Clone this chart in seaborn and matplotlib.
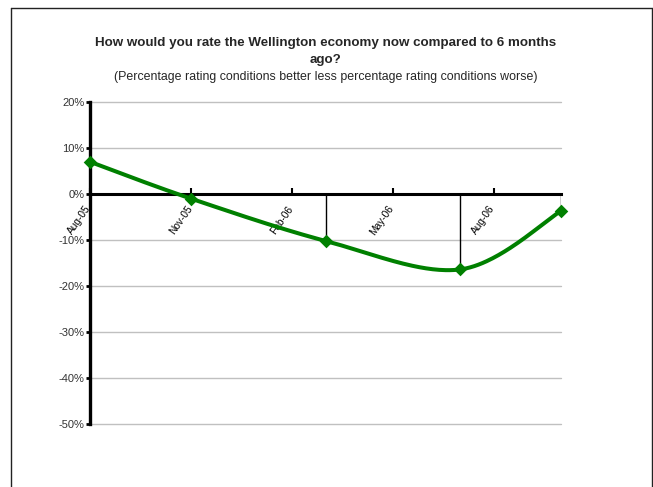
import numpy as np
import pandas as pd
import matplotlib
matplotlib.use("Agg")
import matplotlib.pyplot as plt
from matplotlib.lines import Line2D
from matplotlib.transforms import ScaledTranslation
import seaborn as sns

# ---- data ----
dates = ["Aug-05", "Nov-05", "Mar-06", "Jul-06", "Oct-06"]
values = [7.0, -1.0, -10.2, -16.4, -3.7]
tick_labels = ["Aug-05", "Nov-05", "Feb-06", "May-06", "Aug-06"]
y_ticks = [20, 10, 0, -10, -20, -30, -40, -50]

title_lines = ["How would you rate the Wellington economy now compared to 6 months", "ago?"]
subtitle = "(Percentage rating conditions better less percentage rating conditions worse)"

sns.set_theme(style="white")
plt.rcParams["font.family"] = ["Liberation Sans", "DejaVu Sans"]

start = pd.Period("2005-08", freq="M")
def month_index(lbl):
    p = pd.Period(pd.to_datetime(lbl, format="%b-%y"), freq="M")
    return (p - start).n

xs = np.array([month_index(d) for d in dates], dtype=float)
ys = np.array(values, dtype=float)
tick_pos = [month_index(t) for t in tick_labels]

# Excel-like smoothing (Catmull-Rom via cubic Bezier)
def smooth(x, y, n=60):
    P = np.column_stack([x, y])
    Pext = np.vstack([P[0], P, P[-1]])
    out = []
    for i in range(len(P) - 1):
        p0, p1, p2, p3 = Pext[i], Pext[i + 1], Pext[i + 2], Pext[i + 3]
        c1 = p1 + (p2 - p0) / 6.0
        c2 = p2 - (p3 - p1) / 6.0
        t = np.linspace(0, 1, n)[:, None]
        seg = ((1 - t) ** 3) * p1 + 3 * ((1 - t) ** 2) * t * c1 + 3 * (1 - t) * t ** 2 * c2 + t ** 3 * p2
        out.append(seg if i == 0 else seg[1:])
    s = np.vstack(out)
    return s[:, 0], s[:, 1]

sx, sy = smooth(xs, ys)
curve = pd.DataFrame({"x": sx, "y": sy})
pts = pd.DataFrame({"x": xs, "y": ys})

fig = plt.figure(figsize=(6.53, 4.87), dpi=100)
ax = fig.add_axes([90 / 653, 1 - 424 / 487, (561 - 90) / 653, (424 - 102) / 487])

# gridlines
for yt in y_ticks:
    if yt != 0:
        ax.axhline(yt, color="#c0c0c0", lw=1, zorder=0, clip_on=False)

# drop lines
ax.vlines(xs, 0, ys, color="black", lw=1, zorder=1)

sns.lineplot(data=curve, x="x", y="y", ax=ax, color="#008000", lw=2.9, sort=False, zorder=3)
sns.scatterplot(data=pts, x="x", y="y", ax=ax, color="#008000", marker="D", s=48,
                edgecolor="#008000", linewidth=0, zorder=4, clip_on=False)

ax.set_xlim(xs.min(), xs.max())
ax.set_ylim(-50, 20)
ax.set_xlabel("")
ax.set_ylabel("")

ax.spines["top"].set_visible(False)
ax.spines["right"].set_visible(False)
ax.spines["left"].set_linewidth(2.4)
ax.spines["left"].set_color("black")
ax.spines["bottom"].set_position(("data", 0))
ax.spines["bottom"].set_linewidth(2.2)
ax.spines["bottom"].set_color("black")

ax.set_yticks(y_ticks)
ax.set_yticklabels([f"{v}%" for v in y_ticks], fontsize=8, color="#333333")
ax.tick_params(axis="y", direction="out", length=3, width=2, color="black", pad=1, left=True)

ax.set_xticks(tick_pos)
ax.set_xticklabels(tick_labels, fontsize=7.3, rotation=55, ha="right", va="top",
                   rotation_mode="anchor", color="black")
ax.tick_params(axis="x", direction="in", length=4, width=1.5, color="black", pad=7, bottom=True)
shift = ScaledTranslation(-0.05, 0, fig.dpi_scale_trans)
for lab in ax.get_xticklabels():
    lab.set_transform(lab.get_transform() + shift)

fig.text(326 / 653, 1 - 43 / 487, title_lines[0], ha="center", va="center", fontsize=9.6,
         fontweight="bold")
fig.text(326 / 653, 1 - 60 / 487, title_lines[1], ha="center", va="center", fontsize=9.6,
         fontweight="bold")
fig.text(326 / 653, 1 - 77 / 487, subtitle, ha="center", va="center", fontsize=8.9)

# outer border
bx0, bx1, by1 = 11 / 653, 652 / 653, 1 - 8 / 487
for xd, yd in [([bx0, bx0], [0, by1]), ([bx0, bx1], [by1, by1]), ([bx1, bx1], [by1, 0])]:
    fig.add_artist(Line2D(xd, yd, transform=fig.transFigure, color="#222222", lw=1))

fig.savefig("out.png", dpi=100, facecolor="white")
